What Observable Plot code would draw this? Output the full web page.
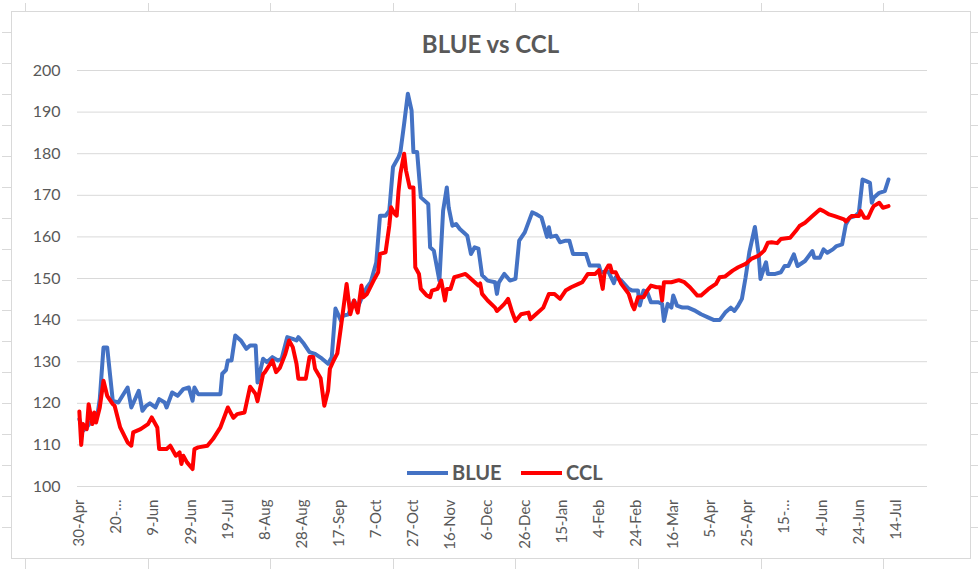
<!DOCTYPE html>
<html>
<head>
<meta charset="utf-8">
<script src="https://cdn.jsdelivr.net/npm/d3@7"></script>
<script src="https://cdn.jsdelivr.net/npm/@observablehq/plot@0.6"></script>
<style>
  html, body { margin: 0; padding: 0; background: #fff; }
  #wrap { position: relative; width: 980px; height: 569px; overflow: hidden; font-family: Lato, "Open Sans", sans-serif; }
  #frame { position: absolute; left: 11px; top: 11px; width: 960px; height: 548px; border: 1px solid #d9d9d9; box-sizing: border-box; }
  #chart { position: absolute; left: 0; top: 0; }
  #title { position: absolute; left: 0; width: 981px; top: 32px; text-align: center; font-weight: 700; font-size: 24px; line-height: 1; color: #595959; }
  .lg-line { position: absolute; height: 4px; top: 471px; }
  .lg-text { position: absolute; top: 462px; font-weight: 700; font-size: 20px; line-height: 1; color: #595959; }
  .sheet-tick { position: absolute; background: #d9d9d9; }
</style>
</head>
<body>
<div id="wrap">
  <div id="sheet"></div>
  <div id="frame"></div>
  <div id="chart"></div>
  <div id="title"></div>
  <div id="legend"></div>
</div>
<script>
const titleText = "BLUE vs CCL";
const seriesNames = ["BLUE", "CCL"];
const seriesColors = ["#4472C4", "#FF0000"];
const startDate = "2020-04-30";

// day offsets from 30-Apr-2020
const blueDays = [
  0,2,4,7,10,11,13,15,18,21,
  26,28,32,34,36,38,41,43,46,47,
  50,53,56,59,61,62,64,76,77,79,
  80,82,84,87,90,92,95,96,99,101,
  104,107,109,112,115,117,118,121,124,127,
  130,134,136,138,141,142,145,148,150,153,
  155,157,160,162,165,167,169,172,173,175,
  177,179,180,182,184,188,189,191,194,196,
  198,199,201,203,205,208,209,211,213,215,
  217,220,224,225,226,229,232,235,237,240,
  244,246,249,252,253,254,257,259,262,264,
  266,273,275,280,281,285,288,289,292,296,
  298,301,302,304,306,308,312,314,315,317,
  319,320,322,325,328,332,335,339,342,345,
  348,351,353,355,357,359,361,364,366,367,
  369,370,371,375,378,380,382,385,387,391,
  395,396,399,401,403,406,408,411,413,415,
  418,420,422,424,426,427,428,431,434,436
];
const blueValues = [
  116.2,113.4,114.2,116,118,121,133.4,133.4,120.6,120.2,
  123.8,119,123,118.2,119.4,120,119,121,120.2,119,
  122.6,121.8,123.4,123.8,120.6,123.8,122.2,122.2,127.1,128,
  130.3,130.3,136.3,135.1,133.1,133.9,133.9,125,130.7,129.9,
  131.1,130.3,130.7,135.9,135.5,135.1,135.9,134.3,132.3,131.9,
  131,129.5,131.1,142.8,139.8,141,141.4,144.7,143,146.3,
  147.9,149.1,153.9,165.1,165.1,166.3,176.8,179.2,180.4,187.2,
  194.4,190.4,180.4,180.4,169.5,167.9,157.5,156.7,149.5,166.3,
  171.9,167.1,162.7,163.1,161.9,160.7,160.3,155.9,157.5,157.2,
  150.8,149.5,149.1,146.3,149,151.1,149.5,149.9,159.1,161.1,
  165.9,165.5,164.7,160,162.3,160,160.3,158.7,159.1,159.1,
  155.9,155.9,153.1,153.1,151.5,151.7,148.9,150.3,149.5,147.5,
  147.1,147.1,143.5,147.1,146.7,144.3,144.3,143.9,139.8,143.9,
  143,145.9,143.5,143,143,142.2,141.4,140.6,140,140,
  141.8,143,142.2,143.5,145.1,150.3,156.3,162.4,155.9,149.9,
  152.7,153.9,151.1,151.1,151.5,153,153,155.8,153,154.2,
  156.6,155,155,157,156.2,157,157.8,158.2,163,164.6,
  165,165.8,173.8,173.4,173,168.2,169.4,170.6,171,173.8
];

const cclDays = [
  0,1,2,4,5,7,8,9,11,13,
  15,18,19,22,26,28,29,33,37,39,
  42,43,47,49,52,54,55,56,58,61,
  62,64,69,72,76,80,83,85,89,92,
  95,96,99,100,104,106,108,111,113,115,
  117,118,122,124,126,127,130,132,134,135,
  137,139,141,144,146,148,150,152,153,155,
  159,161,162,165,167,168,170,171,172,173,
  175,176,178,180,181,183,184,187,189,190,
  193,195,197,198,200,202,205,208,209,212,
  215,216,217,220,224,225,227,229,231,233,
  235,238,242,243,246,250,253,256,259,262,
  265,269,271,274,278,280,282,283,285,286,
  287,289,292,296,298,299,301,304,306,308,
  311,313,314,315,319,323,326,329,333,335,
  339,343,345,348,352,355,359,362,366,369,
  371,373,376,378,383,386,388,391,395,399,
  401,404,407,412,413,416,420,421,423,425,
  427,428,431,433,436
];
const cclValues = [
  118,110,115,113.8,119.8,115,117.8,115.4,119,125.4,
  121.8,119.8,119.4,114.2,110.6,109.8,113,113.8,115,116.6,
  114.2,109,109,109.8,107.4,108.2,105.4,107.4,105.8,104.2,
  109,109.4,109.8,111.4,114.2,119,116.5,117.4,117.8,124,
  122.2,120.5,127,127.5,130.3,127.5,128.5,131.9,135.1,133.5,
  129.5,125.9,125.9,131.1,131.1,128.3,126,119.4,123,128.3,
  130.3,132,138.5,148.7,141.4,144.7,141.8,148.3,145.5,146.3,
  149.9,151.5,155.9,156.3,162.7,167.1,165.5,165.1,171.1,175.2,
  180,176,171.9,171.9,152.7,151.1,147.5,146,145.5,147.1,
  147.5,149.5,144.7,147.5,147.5,150.3,150.7,151.1,150.7,149.5,
  148.3,148.8,146.3,144.7,143,142.2,143,143.9,145.1,142.2,
  139.8,141.4,141.8,140.2,141.4,143,146.3,146.3,145.1,147.1,
  147.9,148.7,149.1,151.1,151.1,152,147.5,151.5,153.1,153.1,
  151.5,151.5,148.7,146.3,143.5,142.6,145.5,145.5,147.1,148.3,
  147.9,147.9,144.7,149.1,149.1,149.6,149.1,147.9,145.9,145.9,
  147.5,148.7,150.3,150.5,151.9,152.7,153.5,154.7,155.5,156.7,
  158.6,158.7,158.5,159.5,159.8,161.4,162.6,163.4,165,166.6,
  166.2,165.4,165,164.2,163.7,165,165,166.2,164.6,164.6,
  166.6,167.4,168.2,167,167.4
];

const tickStepDays = 20;
const tickLabels = ["30-Apr","20-\u2026","9-Jun","29-Jun","19-Jul","8-Aug","28-Aug","17-Sep","7-Oct","27-Oct","16-Nov","6-Dec","26-Dec","15-Jan","4-Feb","24-Feb","16-Mar","5-Apr","25-Apr","15-\u2026","4-Jun","24-Jun","14-Jul"];
const yTicks = [100,110,120,130,140,150,160,170,180,190,200];

const start = new Date(startDate + "T00:00:00Z");
const toDate = d => d3.utcDay.offset(start, d);
const blue = blueDays.map((d, i) => ({date: toDate(d), value: blueValues[i]}));
const ccl = cclDays.map((d, i) => ({date: toDate(d), value: cclValues[i]}));
const tickDates = tickLabels.map((_, i) => toDate(i * tickStepDays));
const labelMap = new Map(tickDates.map((d, i) => [+d, tickLabels[i]]));

const chart = Plot.plot({
  width: 980,
  height: 569,
  marginLeft: 77,
  marginRight: 53,
  marginTop: 70,
  marginBottom: 83,
  style: {fontFamily: "Lato, 'Open Sans', sans-serif", color: "#595959", background: "transparent", overflow: "visible"},
  x: {type: "utc", domain: [toDate(-1), toDate(457)]},
  y: {domain: [100, 200]},
  marks: [
    Plot.gridY(yTicks, {stroke: "#d9d9d9", strokeOpacity: 1, strokeWidth: 1}),
    Plot.axisY(yTicks, {tickSize: 0, tickPadding: 17, fontSize: 16, label: null, tickFormat: d => String(d)}),
    Plot.axisX(tickDates, {tickSize: 0, tickPadding: 13, tickRotate: -90, fontSize: 15, label: null, tickFormat: d => labelMap.get(+d)}),
    Plot.lineY(blue, {x: "date", y: "value", stroke: seriesColors[0], strokeWidth: 4, strokeLinejoin: "round", strokeLinecap: "round"}),
    Plot.lineY(ccl, {x: "date", y: "value", stroke: seriesColors[1], strokeWidth: 4, strokeLinejoin: "round", strokeLinecap: "round"})
  ]
});
document.getElementById("chart").appendChild(chart);
document.getElementById("title").textContent = titleText;

const legend = document.getElementById("legend");
const lgPos = [{line: 407, w: 41, text: 452}, {line: 521, w: 41, text: 566}];
seriesNames.forEach((name, i) => {
  const l = document.createElement("div");
  l.className = "lg-line";
  l.style.left = lgPos[i].line + "px";
  l.style.width = lgPos[i].w + "px";
  l.style.background = seriesColors[i];
  legend.appendChild(l);
  const t = document.createElement("div");
  t.className = "lg-text";
  t.style.left = lgPos[i].text + "px";
  t.textContent = name;
  legend.appendChild(t);
});

// spreadsheet cell boundary marks around the embedded chart
const sheet = document.getElementById("sheet");
function tick(l, t, w, h) {
  const e = document.createElement("div");
  e.className = "sheet-tick";
  e.style.left = l + "px"; e.style.top = t + "px";
  e.style.width = w + "px"; e.style.height = h + "px";
  sheet.appendChild(e);
}
for (let k = 0; k < 8; k++) {
  const x = Math.round(25 + 122.6 * k);
  tick(x, 3, 1, 9);
  tick(x, 559, 1, 10);
}
for (let k = 0; k < 17; k++) {
  const y = Math.round(32 + 30.94 * k);
  tick(2, y, 10, 1);
  tick(971, y, 7, 1);
}
</script>
</body>
</html>
